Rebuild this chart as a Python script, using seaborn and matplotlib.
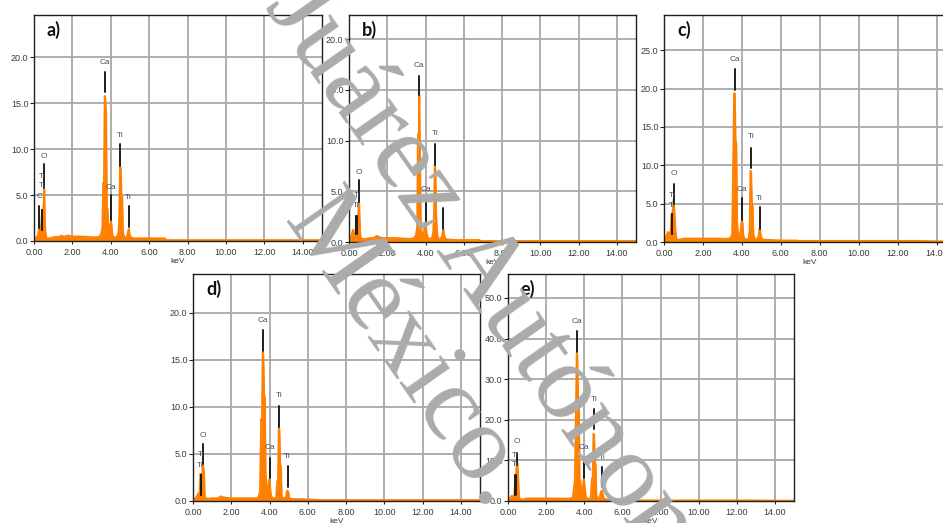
import numpy as np
import pandas as pd
import matplotlib
matplotlib.use("Agg")
import matplotlib.pyplot as plt
import seaborn as sns

# ---------------- data ----------------
energy_kev = [0.00, 0.05, 0.12, 0.20, 0.26, 0.30, 0.34, 0.38, 0.42, 0.46,
              0.50, 0.54, 0.58, 0.62, 0.68, 0.80, 1.00, 1.10, 1.30, 1.45,
              1.55, 1.75, 2.00, 2.40, 2.80, 3.20, 3.40, 3.50, 3.56, 3.60,
              3.64, 3.68, 3.72, 3.76, 3.80, 3.84, 3.88, 3.92, 3.96, 4.00,
              4.04, 4.08, 4.14, 4.24, 4.34, 4.40, 4.44, 4.48, 4.52, 4.56,
              4.60, 4.64, 4.70, 4.78, 4.86, 4.90, 4.94, 4.98, 5.04, 5.20,
              5.60, 6.20, 6.80, 6.90, 8.00, 10.00, 12.00, 13.00, 14.00, 15.00]

counts_a = [0.0, 0.2, 0.4, 0.6, 1.4, 0.9, 1.0, 2.0, 3.4, 3.2,
            4.0, 5.6, 1.6, 0.6, 0.3, 0.3, 0.4, 0.45, 0.45, 0.6,
            0.45, 0.6, 0.5, 0.5, 0.45, 0.4, 0.45, 0.8, 1.5, 6.3,
            6.2, 15.8, 15.5, 13.7, 3.7, 3.4, 0.8, 0.9, 1.6, 2.2,
            1.8, 0.7, 0.4, 0.4, 0.5, 1.0, 2.7, 8.1, 8.0, 4.9,
            4.8, 0.9, 0.4, 0.4, 0.6, 1.1, 1.3, 0.8, 0.4, 0.3,
            0.3, 0.3, 0.3, 0.1, 0.1, 0.1, 0.1, 0.1, 0.1, 0.1]

counts_b = [0.0, 0.3, 0.6, 1.2, 0.9, 0.8, 1.0, 2.6, 2.4, 1.5,
            3.9, 3.7, 1.0, 0.4, 0.3, 0.3, 0.35, 0.4, 0.4, 0.6,
            0.5, 0.4, 0.4, 0.4, 0.35, 0.3, 0.4, 0.7, 1.5, 10.6,
            10.4, 14.5, 7.8, 1.5, 1.0, 0.7, 0.7, 1.0, 1.9, 1.9,
            1.2, 0.6, 0.4, 0.3, 0.4, 1.0, 2.8, 7.6, 7.2, 2.8,
            1.0, 0.5, 0.3, 0.3, 0.6, 1.1, 1.2, 0.7, 0.3, 0.25,
            0.2, 0.2, 0.2, 0.1, 0.1, 0.1, 0.1, 0.1, 0.1, 0.1]

counts_c = [0.0, 0.3, 0.8, 1.3, 1.1, 1.0, 1.5, 3.6, 3.4, 4.5,
            5.6, 4.0, 2.0, 0.6, 0.3, 0.3, 0.45, 0.45, 0.45, 0.45,
            0.45, 0.45, 0.45, 0.45, 0.45, 0.4, 0.5, 1.0, 11.9, 19.4,
            19.4, 13.3, 12.8, 2.5, 1.2, 0.8, 0.8, 1.2, 2.2, 2.9,
            2.5, 0.8, 0.4, 0.35, 0.4, 1.6, 9.3, 9.1, 5.0, 4.6,
            1.0, 0.6, 0.35, 0.35, 0.8, 1.7, 1.6, 0.8, 0.35, 0.3,
            0.25, 0.2, 0.2, 0.15, 0.15, 0.15, 0.15, 0.15, 0.1, 0.1]

counts_d = [0.0, 0.2, 0.3, 0.5, 0.8, 0.8, 0.7, 2.9, 2.8, 1.8,
            3.9, 3.7, 2.9, 0.5, 0.25, 0.25, 0.3, 0.3, 0.3, 0.5,
            0.4, 0.35, 0.3, 0.3, 0.3, 0.3, 0.3, 1.0, 8.7, 8.5,
            15.8, 15.6, 11.4, 11.0, 3.0, 1.5, 0.8, 1.0, 2.2, 2.3,
            1.4, 0.6, 0.3, 0.3, 0.3, 2.1, 2.0, 7.8, 7.6, 3.9,
            3.7, 0.6, 0.3, 0.3, 0.4, 1.0, 1.1, 1.0, 0.3, 0.2,
            0.2, 0.15, 0.1, 0.1, 0.1, 0.1, 0.1, 0.1, 0.1, 0.1]

counts_e = [0.0, 0.4, 0.8, 1.3, 1.0, 1.0, 2.0, 6.4, 6.0, 9.7,
            9.5, 5.6, 1.2, 0.5, 0.4, 0.4, 0.65, 0.65, 0.65, 0.65,
            0.65, 0.65, 0.65, 0.65, 0.6, 0.6, 0.8, 5.0, 21.1, 36.3,
            36.0, 25.2, 24.5, 5.2, 5.0, 2.0, 1.5, 3.0, 5.2, 5.0,
            3.0, 1.2, 0.6, 0.5, 0.8, 5.6, 5.4, 16.6, 16.3, 9.7,
            9.0, 1.5, 0.6, 0.5, 2.0, 2.5, 2.5, 1.5, 0.5, 0.4,
            0.35, 0.3, 0.2, 0.15, 0.15, 0.15, 0.15, 0.15, 0.1, 0.1]

# peak markers: (element, energy, line bottom, line top, label height)
markers_a = [("C", 0.28, 1.4, 3.8, 4.8), ("Ti", 0.42, 1.2, 3.4, 6.0),
             ("Ti", 0.44, 1.2, 3.4, 7.0), ("O", 0.52, 5.8, 8.4, 9.2),
             ("Ca", 3.69, 16.2, 18.4, 19.4), ("Ca", 4.02, 2.3, 5.0, 5.8),
             ("Ti", 4.49, 8.2, 10.6, 11.5), ("Ti", 4.93, 1.5, 3.8, 4.7)]
markers_b = [("Ti", 0.39, 0.8, 2.6, 3.6), ("Ti", 0.41, 0.8, 2.6, 4.6),
             ("O", 0.51, 3.9, 6.1, 6.9), ("Ca", 3.67, 14.5, 16.4, 17.4),
             ("Ca", 4.00, 2.1, 4.3, 5.2), ("Ti", 4.49, 7.6, 9.7, 10.7),
             ("Ti", 4.92, 1.3, 3.4, 4.4)]
markers_c = [("Ti", 0.40, 1.0, 3.6, 4.8), ("Ti", 0.42, 1.0, 3.6, 6.1),
             ("O", 0.51, 5.0, 7.6, 8.9), ("Ca", 3.65, 19.8, 22.5, 23.8),
             ("Ca", 4.01, 2.9, 5.8, 6.9), ("Ti", 4.46, 9.6, 12.3, 13.7),
             ("Ti", 4.91, 1.7, 4.5, 5.7)]
markers_d = [("Ti", 0.40, 0.6, 2.8, 3.8), ("Ti", 0.42, 0.6, 2.8, 4.9),
             ("O", 0.52, 3.9, 6.0, 7.0), ("Ca", 3.66, 15.9, 18.2, 19.2),
             ("Ca", 4.02, 2.4, 4.6, 5.7), ("Ti", 4.50, 7.9, 10.1, 11.2),
             ("Ti", 4.95, 1.5, 3.7, 4.75)]
markers_e = [("Ti", 0.38, 1.5, 6.4, 8.9), ("Ti", 0.40, 1.5, 6.4, 11.3),
             ("O", 0.48, 8.9, 11.9, 14.6), ("Ca", 3.64, 36.6, 41.8, 44.1),
             ("Ca", 3.99, 5.6, 10.5, 13.1), ("Ti", 4.50, 17.7, 22.6, 25.1),
             ("Ti", 4.94, 3.5, 8.4, 10.7)]

panel_letters = ["a)", "b)", "c)", "d)", "e)"]
y_limits = [24.6, 22.4, 29.6, 24.1, 55.9]
y_steps = [5, 5, 5, 5, 10]
x_tick_values = [0, 2, 4, 6, 8, 10, 12, 14]
watermark_lines = ["Juárez Autónoma", "México."]

# ---------------- style ----------------
W, H = 943, 523
ORANGE = "#ff8000"
GRID = "#a8a8a8"

sns.set_theme(style="white")
plt.rcParams["font.family"] = ["Liberation Sans", "DejaVu Sans"]

fig = plt.figure(figsize=(W / 100, H / 100), dpi=100)
fig.patch.set_facecolor("white")

# axes rectangles in pixels: left, top, right, bottom
rects_px = [(34, 15, 322, 241), (349, 15, 636, 242), (664, 15, 956, 242),
            (193, 274, 480, 501), (508, 274, 794, 501)]

all_counts = [counts_a, counts_b, counts_c, counts_d, counts_e]
all_markers = [markers_a, markers_b, markers_c, markers_d, markers_e]

for letter, counts, markers, ytop, ystep, (l, t, r, b) in zip(
        panel_letters, all_counts, all_markers, y_limits, y_steps, rects_px):
    ax = fig.add_axes([l / W, 1 - b / H, (r - l) / W, (b - t) / H])
    ax.set_facecolor("white")
    df = pd.DataFrame({"keV": energy_kev, "counts": counts})
    sns.lineplot(data=df, x="keV", y="counts", ax=ax, color=ORANGE,
                 linewidth=1.3, zorder=3)
    ax.fill_between(df["keV"], df["counts"], color=ORANGE, linewidth=0,
                    zorder=3)
    ax.set_xlim(0, 15)
    ax.set_ylim(0, ytop)
    ax.set_xticks(x_tick_values)
    ax.set_xticklabels([f"{v:.2f}" for v in x_tick_values])
    yt = np.arange(0, ytop, ystep)
    ax.set_yticks(yt)
    ax.set_yticklabels([f"{v:.1f}" for v in yt])
    ax.grid(True, color=GRID, linewidth=1.3, zorder=1)
    ax.set_axisbelow(True)
    for s in ax.spines.values():
        s.set_color("#202020")
        s.set_linewidth(1.0)
        s.set_zorder(4)
    ax.tick_params(axis="y", which="both", left=True, length=3, width=0.8,
                   color="#202020", labelsize=6.5, labelcolor="#3a3a3a", pad=1)
    ax.tick_params(axis="x", which="both", bottom=True, length=2, width=0.8,
                   color="#202020", labelsize=6.5, labelcolor="#3a3a3a", pad=3)
    ax.set_xlabel("keV", fontsize=6, color="#3a3a3a", labelpad=1)
    ax.set_ylabel("")
    for el, e, yb, ytp, yl in markers:
        ax.plot([e, e], [yb, ytp], color="#1e1e1e", linewidth=1.4, zorder=5)
        ax.text(e, yl, el, ha="center", va="center", fontsize=6,
                color="#4a5068", zorder=6)
    ax.text(0.045, 0.975, letter, transform=ax.transAxes, fontsize=13,
            fontweight="bold", va="top", ha="left", color="#111111",
            family=["Lato", "DejaVu Sans"], zorder=6)

# watermark (two rotated lines, drawn over everything)
wm_anchor_px = [(264, 6), (283, 221)]
for txt, (px, py) in zip(watermark_lines, wm_anchor_px):
    fig.text(px / W, 1 - py / H, txt, rotation=-55, rotation_mode="anchor",
             ha="left", va="baseline", fontsize=78, color="#ababab",
             family=["Liberation Serif", "DejaVu Serif"], zorder=20)

fig.savefig("out.png", dpi=100)
